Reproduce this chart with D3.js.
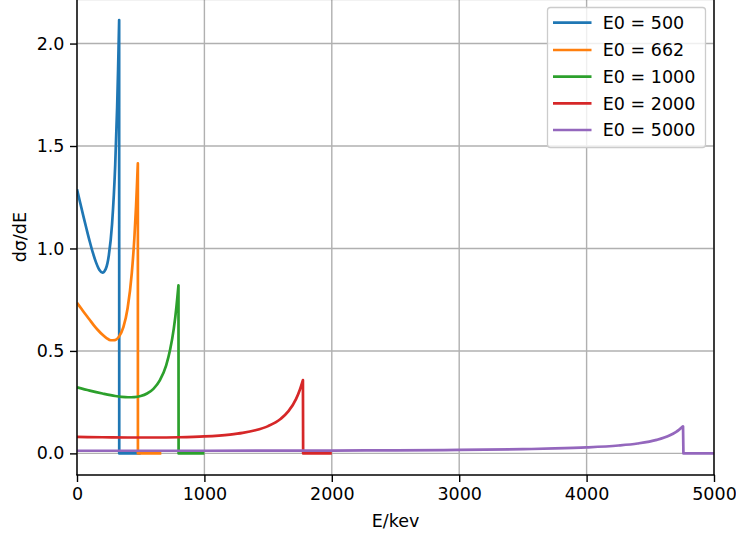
<!DOCTYPE html>
<html>
<head>
<meta charset="utf-8">
<script src="https://cdn.jsdelivr.net/npm/d3@7"></script>
<style>
  html, body { margin: 0; padding: 0; background: #ffffff; }
  svg { display: block; font-family: "DejaVu Sans", sans-serif; }
</style>
</head>
<body>
<svg id="chart" width="736" height="536"></svg>
<script>
// ---- data ----
const seriesLabels = ["E0 = 500", "E0 = 662", "E0 = 1000", "E0 = 2000", "E0 = 5000"];
const seriesColors = ["#1f77b4", "#ff7f0e", "#2ca02c", "#d62728", "#9467bd"];

// energies (keV) and dσ/dE for each series
const energy500 = [0, 25, 50, 75, 100, 125, 150, 175, 200, 225, 250, 275, 300, 315, 322.5, 327.5, 330.9, 331.5, 500];
const value500  = [1.289, 1.223, 1.158, 1.095, 1.034, 0.978, 0.931, 0.896, 0.882, 0.899, 0.967, 1.118, 1.408, 1.689, 1.873, 2.016, 2.115, 0, 0];

const energy662 = [0, 33.1, 66.2, 99.3, 132.4, 165.5, 198.6, 231.7, 264.8, 297.9, 331, 364.1, 397.2, 430.3, 450.2, 463.4, 470, 473.3, 477.6, 478.3, 662];
const value662  = [0.735, 0.707, 0.679, 0.652, 0.625, 0.601, 0.580, 0.563, 0.552, 0.553, 0.571, 0.616, 0.708, 0.881, 1.050, 1.204, 1.298, 1.350, 1.415, 0, 0];

const energy1000 = [0, 100, 200, 300, 350, 400, 450, 500, 550, 600, 650, 700, 730, 760, 780, 790, 796.5, 797.5, 1000];
const value1000  = [0.322, 0.306, 0.292, 0.280, 0.276, 0.274, 0.275, 0.280, 0.292, 0.315, 0.356, 0.430, 0.503, 0.610, 0.713, 0.777, 0.820, 0, 0];

const energy2000 = [0, 200, 400, 600, 800, 1000, 1200, 1300, 1400, 1500, 1600, 1660, 1720, 1750, 1773.4, 1775, 2000];
const value2000  = [0.0806, 0.0788, 0.0776, 0.0774, 0.0787, 0.0827, 0.0919, 0.1000, 0.1126, 0.1331, 0.1692, 0.2060, 0.2661, 0.3120, 0.3580, 0, 0];

const energy5000 = [0, 1000, 2000, 2500, 3000, 3500, 3750, 4000, 4250, 4400, 4550, 4650, 4700, 4725, 4756.9, 4760, 5000];
const value5000  = [0.0129, 0.0129, 0.0138, 0.0149, 0.0169, 0.0207, 0.0240, 0.0293, 0.0386, 0.0484, 0.0657, 0.0869, 0.1037, 0.1148, 0.1320, 0, 0];

const xTicks = [0, 1000, 2000, 3000, 4000, 5000];
const yTicks = [0.0, 0.5, 1.0, 1.5, 2.0];
const xLabel = "E/kev";
const yLabel = "dσ/dE";

const seriesEnergy = [energy500, energy662, energy1000, energy2000, energy5000];
const seriesValue  = [value500, value662, value1000, value2000, value5000];

// ---- layout ----
const svg = d3.select("#chart");
const L = 77, R = 714, T = -0.6, B = 475;
const FS = 17.5;

const x = d3.scaleLinear().domain([0, 5000]).range([L, R]);
const y = d3.scaleLinear().domain([-0.1055, 2.2155]).range([B, T]);

// grid
const grid = svg.append("g");
grid.selectAll("line.gx").data(xTicks).enter().append("line")
  .attr("x1", d => x(d)).attr("x2", d => x(d)).attr("y1", T).attr("y2", B)
  .attr("stroke", "#b0b0b0").attr("stroke-width", 1.4);
grid.selectAll("line.gy").data(yTicks).enter().append("line")
  .attr("x1", L).attr("x2", R).attr("y1", d => y(d)).attr("y2", d => y(d))
  .attr("stroke", "#b0b0b0").attr("stroke-width", 1.4);

// clip
svg.append("clipPath").attr("id", "clip").append("rect")
  .attr("x", L).attr("y", T).attr("width", R - L).attr("height", B - T);

// lines
const bodyLine = d3.line().x(d => x(d[0])).y(d => y(d[1])).curve(d3.curveMonotoneX);
const tailLine = d3.line().x(d => x(d[0])).y(d => y(d[1]));
const lines = svg.append("g").attr("clip-path", "url(#clip)");
seriesEnergy.forEach((en, i) => {
  const vals = seriesValue[i];
  const pts = en.map((e, j) => [e, vals[j]]);
  const peak = d3.maxIndex(vals);
  const body = pts.slice(0, peak + 1);
  const tail = pts.slice(peak);
  const d = bodyLine(body) + tailLine(tail).replace(/^M/, "L");
  lines.append("path").attr("d", d)
    .attr("fill", "none").attr("stroke", seriesColors[i])
    .attr("stroke-width", 2.7).attr("stroke-linejoin", "round").attr("stroke-linecap", "butt");
});

// axes
const xAxis = d3.axisBottom(x).tickValues(xTicks).tickFormat(d3.format("d")).tickSize(7).tickPadding(6);
const yAxis = d3.axisLeft(y).tickValues(yTicks).tickFormat(d3.format(".1f")).tickSize(7).tickPadding(5.5);

const gx = svg.append("g").attr("transform", `translate(0,${B})`).call(xAxis);
const gy = svg.append("g").attr("transform", `translate(${L},0)`).call(yAxis);
[gx, gy].forEach(g => {
  g.select(".domain").remove();
  g.selectAll(".tick line").attr("stroke", "#000").attr("stroke-width", 1.4);
  g.selectAll(".tick text").attr("fill", "#000").style("font-size", FS + "px")
    .style("font-family", "'DejaVu Sans', sans-serif");
});

// spines
svg.append("line").attr("x1", L).attr("x2", L).attr("y1", T).attr("y2", B).attr("stroke", "#000").attr("stroke-width", 1.4);
svg.append("line").attr("x1", R).attr("x2", R).attr("y1", T).attr("y2", B).attr("stroke", "#000").attr("stroke-width", 1.4);
svg.append("line").attr("x1", L - 0.7).attr("x2", R + 0.7).attr("y1", B).attr("y2", B).attr("stroke", "#000").attr("stroke-width", 1.4);
svg.append("line").attr("x1", L).attr("x2", R).attr("y1", 0).attr("y2", 0).attr("stroke", "#000").attr("stroke-opacity", 0.1).attr("stroke-width", 1);

// axis labels
svg.append("text").attr("x", (L + R) / 2).attr("y", 527).attr("text-anchor", "middle")
  .style("font-size", FS + "px").attr("fill", "#000").text(xLabel);
svg.append("text").attr("transform", `translate(25.5,${(T + B) / 2}) rotate(-90)`).attr("text-anchor", "middle")
  .style("font-size", FS + "px").attr("fill", "#000").text(yLabel);

// legend
const lg = svg.append("g");
lg.append("rect").attr("x", 547.5).attr("y", 7.5).attr("width", 158).attr("height", 140)
  .attr("rx", 3).attr("ry", 3)
  .attr("fill", "#ffffff").attr("fill-opacity", 0.8).attr("stroke", "#cccccc").attr("stroke-width", 1.3);
const rowY = [22.7, 50, 76.7, 103.3, 130];
seriesLabels.forEach((lab, i) => {
  lg.append("line").attr("x1", 553).attr("x2", 591.5).attr("y1", rowY[i]).attr("y2", rowY[i])
    .attr("stroke", seriesColors[i]).attr("stroke-width", 2.7);
  lg.append("text").attr("x", 602.8).attr("y", rowY[i]).attr("dy", "0.355em")
    .style("font-size", FS + "px").attr("fill", "#000").text(lab);
});
</script>
</body>
</html>
